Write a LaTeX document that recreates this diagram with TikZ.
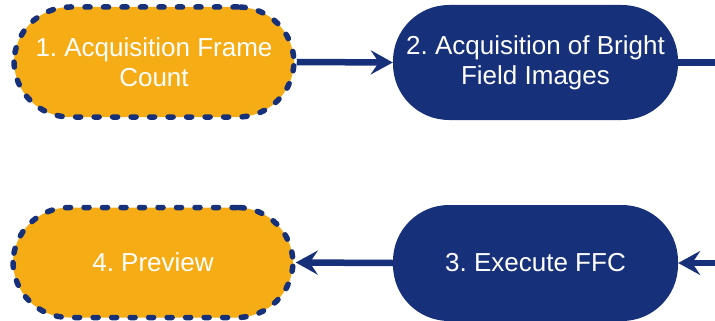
\documentclass[tikz,border=0pt]{standalone}
\usepackage{fontspec}
\setmainfont{Liberation Sans}
\usetikzlibrary{arrows.meta}
\definecolor{navy}{HTML}{17307A}
\definecolor{gold}{HTML}{F6AC15}
\begin{document}
\begin{tikzpicture}[x=1pt,y=-1pt,
  stadium/.style={rectangle, rounded corners=56pt, minimum width=280pt, minimum height=110pt,
    text=white, align=center, font=\fontsize{26pt}{30pt}\selectfont\frenchspacing, inner sep=0pt},
  solidbox/.style={stadium, fill=navy},
  dashbox/.style={stadium, fill=gold, draw=navy, line width=5.5pt, line cap=round,
    dash pattern=on 5pt off 13.5pt},
  conn/.style={draw=navy, line width=6.5pt, -{Stealth[length=22pt,width=24pt,inset=8pt]}},
  plain/.style={draw=navy, line width=6.5pt}]
\useasboundingbox (0,0) rectangle (715,321);
\node[dashbox] (n1) at (154,62) {1. Acquisition Frame\\Count};
\node[solidbox, minimum width=285pt, minimum height=115pt] (n2) at (535.5,62.5) {2. Acquisition of Bright\\Field Images};
\node[solidbox, minimum width=285pt, minimum height=116pt] (n3) at (535.5,263) {3. Execute FFC};
\node[dashbox] (n4) at (153,262.5) {4. Preview};
\coordinate (r1) at (716,62.5);
\coordinate (r2) at (716,263);
\path[conn] (n1.east) -- (n2.west);
\path[plain] (n2.east) -- (r1);
\path[conn] (r2) -- (n3.east);
\path[conn] (n3.west) -- (n4.east);
\end{tikzpicture}
\end{document}
